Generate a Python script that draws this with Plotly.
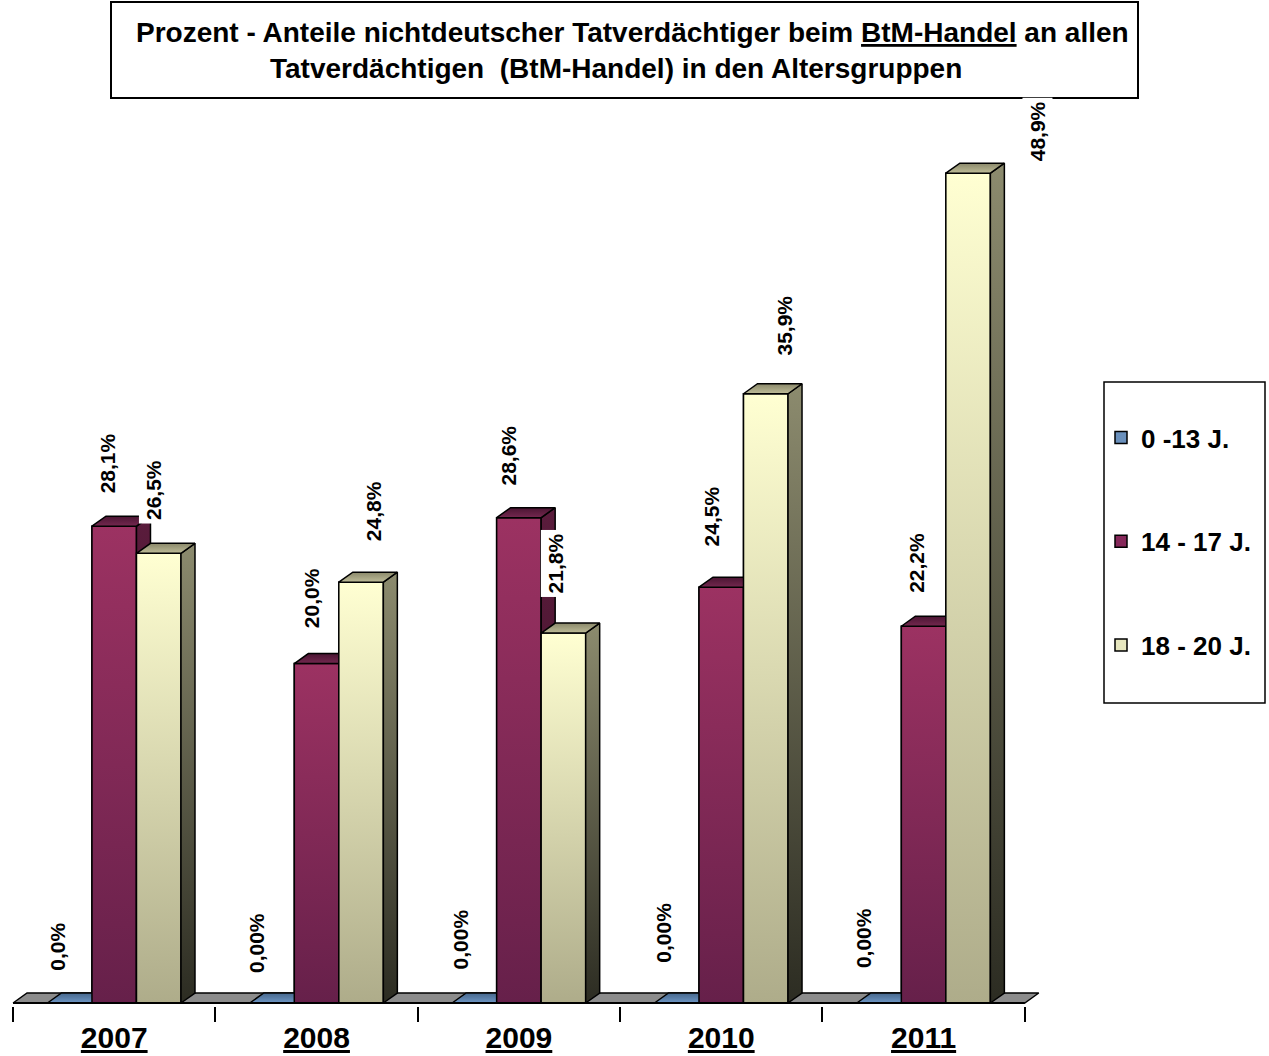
import plotly.graph_objects as go

# ---------------- data ----------------
YEARS = ["2007", "2008", "2009", "2010", "2011"]
SERIES = ["0 -13 J.", "14 - 17 J.", "18 - 20 J."]
V_0_13 = [0.0, 0.0, 0.0, 0.0, 0.0]
V_14_17 = [28.1, 20.0, 28.6, 24.5, 22.2]
V_18_20 = [26.5, 24.8, 21.8, 35.9, 48.9]
LBL_0_13 = ["0,0%", "0,00%", "0,00%", "0,00%", "0,00%"]
LBL_14_17 = ["28,1%", "20,0%", "28,6%", "24,5%", "22,2%"]
LBL_18_20 = ["26,5%", "24,8%", "21,8%", "35,9%", "48,9%"]

# ---------------- layout constants ----------------
W, H = 1269, 1056
ML, MR, MT, MB = 9, 224, 100, 50
X_RANGE = [-0.52, 4.6]
Y_RANGE = [-0.177, 53.21]
PW, PH = W - ML - MR, H - MT - MB
PX_X = PW / (X_RANGE[1] - X_RANGE[0])
PX_Y = PH / (Y_RANGE[1] - Y_RANGE[0])
BW = 0.22            # bar width (category units)
DX = 14 / PX_X       # 3D depth offset
DY = 10 / PX_Y
FONT = "Liberation Sans, Arial, sans-serif"


def pxx(sx):
    return (sx - ML) / PW


def pxy(sy):
    return (H - MB - sy) / PH


# colours: (bottom, top) for vertical gradients
STYLE = {
    0: dict(front=("#6E96C4", "#8CB4E0"), top=("#6E96C4", "#46678C"), side=("#2E4560", "#46678C"), legend="#6A90BC"),
    1: dict(front=("#66204A", "#9C3262"), top=("#74284F", "#4A1532"), side=("#3A0F24", "#5A1C3C"), legend="#86285A"),
    2: dict(front=("#AEAC8A", "#FFFFD2"), top=("#BEBC98", "#8A886A"), side=("#2C2C22", "#8C8B6E"), legend="#E6E6BE"),
}
FLOOR = "#8C8C8C"

# per label pixel nudges (x shift, gap above bar top)
LBL_DX = [[-13, -16, -14, -14, -16], [-7, -5, -10, -10, -7], [-5, 12, -8, 19, 69]]
LBL_DY = [[28, 26, 30, 36, 31], [29, 31, 28, 37, 29], [29, 37, 36, 34, 8]]

values = [V_0_13, V_14_17, V_18_20]
labels = [LBL_0_13, LBL_14_17, LBL_18_20]

fig = go.Figure()

# real bar traces (legend + data); covered by the shaded faces below
for k, (name, vals) in enumerate(zip(SERIES, values)):
    fig.add_trace(go.Bar(
        x=list(range(len(YEARS))), y=vals, name=name, legendgroup=name,
        marker=dict(color=STYLE[k]["legend"], line=dict(color="black", width=1.5)),
        hoverinfo="skip",
    ))


def face(xs, ys, cols):
    return go.Scatter(
        x=xs + [xs[0]], y=ys + [ys[0]], mode="lines", fill="toself",
        line=dict(color="black", width=1.5),
        fillgradient=dict(type="vertical", colorscale=[[0, cols[0]], [1, cols[1]]]),
        showlegend=False, hoverinfo="skip",
    )


# floor
n = len(YEARS)
fig.add_trace(face([-0.5, n - 0.5, n - 0.5 + DX, -0.5 + DX], [0, 0, DY, DY], (FLOOR, FLOOR)))

for i in range(n):
    for k in range(3):
        v = values[k][i]
        x0 = i - 1.5 * BW + k * BW
        x1 = x0 + BW
        st = STYLE[k]
        if v > 0:
            fig.add_trace(face([x0, x1, x1, x0], [0, 0, v, v], st["front"]))
            fig.add_trace(face([x1, x1 + DX, x1 + DX, x1], [0, DY, v + DY, v], st["side"]))
        fig.add_trace(face([x0, x1, x1 + DX, x0 + DX], [v, v, v + DY, v + DY], st["top"]))

# value labels
for k in range(3):
    for i in range(n):
        fig.add_annotation(
            x=i - BW + k * BW, y=values[k][i], xref="x", yref="y",
            text=labels[k][i], showarrow=False, textangle=-90,
            xanchor="center", yanchor="bottom",
            xshift=LBL_DX[k][i], yshift=LBL_DY[k][i],
            bgcolor="white", borderpad=3,
            font=dict(family=FONT, size=21, color="black", weight="bold"),
        )

# title box + text
fig.add_shape(type="rect", xref="paper", yref="paper",
              x0=pxx(111), x1=pxx(1138), y0=pxy(98), y1=pxy(2),
              line=dict(color="black", width=2), fillcolor="white", layer="above")
fig.add_annotation(
    xref="paper", yref="paper", x=pxx(632), y=pxy(33), showarrow=False,
    text="Prozent - Anteile nichtdeutscher Tatverdächtiger beim "
         "<span style='text-decoration:underline'>BtM-Handel</span> an allen",
    font=dict(family=FONT, size=28, color="black", weight="bold"),
    xanchor="center", yanchor="middle")
fig.add_annotation(
    xref="paper", yref="paper", x=pxx(616), y=pxy(68), showarrow=False,
    text="Tatverdächtigen  (BtM-Handel) in den Altersgruppen",
    font=dict(family=FONT, size=28, color="black", weight="bold"),
    xanchor="center", yanchor="middle")

# x axis line
fig.add_shape(type="line", xref="x", yref="y", x0=-0.5, x1=n - 0.5, y0=0, y1=0,
              line=dict(color="black", width=2), layer="above")

# legend box
fig.add_shape(type="rect", xref="paper", yref="paper",
              x0=pxx(1104), x1=pxx(1265), y0=pxy(703), y1=pxy(382),
              line=dict(color="black", width=1.5), fillcolor="rgba(0,0,0,0)")

fig.update_layout(
    width=W, height=H,
    margin=dict(l=ML, r=MR, t=MT, b=MB, autoexpand=False),
    paper_bgcolor="white", plot_bgcolor="white",
    barmode="group", bargap=0.34, bargroupgap=0,
    showlegend=True,
    legend=dict(
        xref="container", yref="container", x=1101 / W, y=1 - 414 / H,
        xanchor="left", yanchor="top", traceorder="grouped", tracegroupgap=67,
        font=dict(family=FONT, size=26, color="black", weight="bold"),
        bgcolor="rgba(0,0,0,0)", borderwidth=0, itemwidth=30,
    ),
    xaxis=dict(
        range=X_RANGE, showgrid=False, zeroline=False, showline=False, automargin=False,
        tickmode="array", tickvals=list(range(n)),
        ticktext=[f"<span style='text-decoration:underline'>{y}</span>" for y in YEARS],
        ticks="", ticklabelstandoff=11,
        tickfont=dict(family=FONT, size=30, color="black", weight="bold"),
        minor=dict(tickmode="array", tickvals=[i - 0.5 for i in range(n + 1)],
                   ticks="outside", ticklen=15, tickwidth=2, tickcolor="black"),
    ),
    yaxis=dict(range=Y_RANGE, visible=False, automargin=False),
    font=dict(family=FONT),
)

# remove the default page margin so the figure fills the window exactly
fig.write_html("out.html", config={"displayModeBar": False},
               post_script="document.body.style.margin='0';")
